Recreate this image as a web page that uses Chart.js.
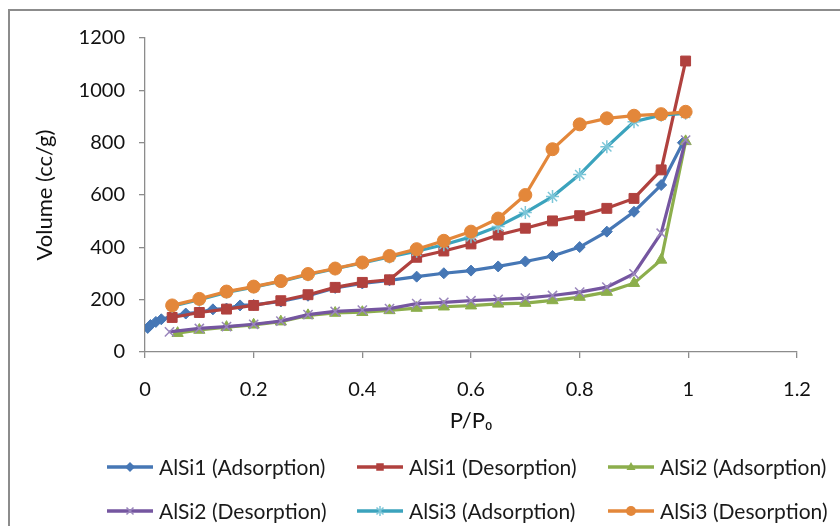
<!DOCTYPE html>
<html>
<head>
<meta charset="utf-8">
<script src="https://cdn.jsdelivr.net/npm/chart.js@4.4.1/dist/chart.umd.min.js"></script>
<style>
  body { margin: 0; background: #fff; font-family: Lato, "Liberation Sans", sans-serif; }
  #wrap { position: relative; width: 840px; height: 526px; overflow: hidden; }
  #frame { position: absolute; left: 8px; top: 9px; width: 900px; height: 600px; border: 2px solid #8c8c8c; box-sizing: border-box; }
  #chart { position: absolute; left: 0; top: 0; }
  .legend-item { position: absolute; display: flex; align-items: center; font-size: 21px; color: #1a1a1a; white-space: nowrap; line-height: 1; }
  .legend-item canvas { margin-right: 6px; }
</style>
</head>
<body>
<div id="wrap">
  <div id="frame"></div>
  <canvas id="chart" width="840" height="526"></canvas>
  <div id="legend"></div>
</div>
<script>
// P/P0 values and volumes (cc/g)
const alsi1AdsX = [0.005, 0.01, 0.02, 0.03, 0.05, 0.075, 0.1, 0.125, 0.15, 0.175, 0.2, 0.25, 0.3, 0.35, 0.4, 0.45, 0.5, 0.55, 0.6, 0.65, 0.7, 0.75, 0.8, 0.85, 0.9, 0.95, 0.99];
const alsi1AdsY = [92, 103, 115, 125, 135, 147, 152, 163, 166, 178, 180, 193, 215, 245, 262, 274, 288, 301, 311, 327, 346, 367, 401, 460, 536, 638, 800];

const stdX = [0.05, 0.1, 0.15, 0.2, 0.25, 0.3, 0.35, 0.4, 0.45, 0.5, 0.55, 0.6, 0.65, 0.7, 0.75, 0.8, 0.85, 0.9, 0.95, 0.995];

const alsi1DesY = [132, 151, 164, 178, 196, 219, 247, 266, 276, 362, 386, 413, 447, 473, 501, 521, 549, 587, 696, 1112];

const alsi2AdsX = [0.06, 0.1, 0.15, 0.2, 0.25, 0.3, 0.35, 0.4, 0.45, 0.5, 0.55, 0.6, 0.65, 0.7, 0.75, 0.8, 0.85, 0.9, 0.95, 0.995];
const alsi2AdsY = [72, 84, 95, 104, 116, 140, 149, 152, 159, 168, 173, 177, 184, 187, 197, 210, 229, 263, 352, 805];

const alsi2DesX = [0.045, 0.1, 0.15, 0.2, 0.25, 0.3, 0.35, 0.4, 0.45, 0.5, 0.55, 0.6, 0.65, 0.7, 0.75, 0.8, 0.85, 0.9, 0.95, 0.995];
const alsi2DesY = [77, 90, 97, 106, 118, 143, 155, 160, 166, 185, 190, 196, 201, 206, 216, 229, 248, 299, 454, 810];

const alsi3AdsY = [175, 200, 228, 248, 270, 295, 318, 340, 363, 385, 410, 440, 480, 533, 594, 678, 784, 880, 905, 912];
const alsi3DesY = [178, 203, 231, 250, 271, 298, 319, 342, 367, 393, 425, 460, 510, 600, 775, 870, 893, 903, 909, 918];

const xTicks = [0, 0.2, 0.4, 0.6, 0.8, 1, 1.2];
const yTicks = [0, 200, 400, 600, 800, 1000, 1200];

const series = [
  { label: 'AlSi1 (Adsorption)', x: alsi1AdsX, y: alsi1AdsY, color: '#4677b5', marker: 'rectRot', radius: 5.5, markerColor: '#4677b5' },
  { label: 'AlSi1 (Desorption)', x: stdX, y: alsi1DesY, color: '#b0413e', marker: 'rect', radius: 7, markerColor: '#b0413e' },
  { label: 'AlSi2 (Adsorption)', x: alsi2AdsX, y: alsi2AdsY, color: '#8cae4c', marker: 'triangle', radius: 6.5, markerColor: '#8cae4c' },
  { label: 'AlSi2 (Desorption)', x: alsi2DesX, y: alsi2DesY, color: '#7556a0', marker: 'crossRot', radius: 6.5, markerColor: '#9a86bc' },
  { label: 'AlSi3 (Adsorption)', x: stdX, y: alsi3AdsY, color: '#3ba3bd', marker: 'star', radius: 6.5, markerColor: '#7cc6d8' },
  { label: 'AlSi3 (Desorption)', x: stdX, y: alsi3DesY, color: '#e3873a', marker: 'circle', radius: 6.5, markerColor: '#e3873a' }
];

const textColor = '#111';
const axisColor = '#8c8c8c';

const datasets = series.map((s, i) => ({
  label: s.label,
  data: s.x.map((x, j) => ({ x: x, y: s.y[j] })),
  showLine: true,
  borderColor: s.color,
  borderWidth: 3.2,
  backgroundColor: s.markerColor,
  pointStyle: s.marker,
  pointRadius: s.radius,
  pointBorderColor: s.markerColor,
  pointBackgroundColor: s.markerColor,
  pointBorderWidth: (s.marker === 'crossRot' || s.marker === 'star') ? 1.5 : 1,
  order: series.length - i
}));

new Chart(document.getElementById('chart'), {
  type: 'scatter',
  data: { datasets: datasets },
  options: {
    responsive: false,
    animation: false,
    layout: { padding: { left: 0, right: 43, top: 38, bottom: 92 } },
    plugins: { legend: { display: false }, tooltip: { enabled: false } },
    scales: {
      x: {
        type: 'linear',
        min: 0, max: 1.2,
        afterBuildTicks: axis => { axis.ticks = xTicks.map(v => ({ value: v })); },
        afterFit: axis => { axis.height = 82; },
        ticks: { color: textColor, font: { family: 'Lato', size: 20 }, padding: 20, callback: v => String(v), maxRotation: 0 },
        grid: { display: true, drawOnChartArea: false, color: axisColor, tickLength: 6, lineWidth: 1.3 },
        border: { color: axisColor, width: 1.3 },
        title: { display: true, text: 'P/P₀', color: textColor, font: { family: 'Lato', size: 22 }, padding: 0 }
      },
      y: {
        min: 0, max: 1200,
        afterBuildTicks: axis => { axis.ticks = yTicks.map(v => ({ value: v })); },
        afterFit: axis => { axis.width = 145; },
        ticks: { color: textColor, font: { family: 'Lato', size: 20 }, padding: 14, callback: v => String(v) },
        grid: { display: true, drawOnChartArea: false, color: axisColor, tickLength: 6, lineWidth: 1.3 },
        border: { color: axisColor, width: 1.3 },
        title: { display: true, text: 'Volume (cc/g)', color: textColor, font: { family: 'Lato', size: 22 }, padding: { top: 32, bottom: 0 } }
      }
    }
  }
});

// legend: line sample with marker, laid out in the same 3x2 grid as the figure
function drawMarker(ctx, style, cx, cy, r, color) {
  ctx.fillStyle = color;
  ctx.strokeStyle = color;
  ctx.lineWidth = 1.5;
  ctx.beginPath();
  if (style === 'rectRot') {
    ctx.moveTo(cx, cy - r); ctx.lineTo(cx + r, cy); ctx.lineTo(cx, cy + r); ctx.lineTo(cx - r, cy); ctx.closePath(); ctx.fill();
  } else if (style === 'rect') {
    ctx.rect(cx - r * 0.75, cy - r * 0.75, r * 1.5, r * 1.5); ctx.fill();
  } else if (style === 'triangle') {
    ctx.moveTo(cx, cy - r); ctx.lineTo(cx + r * 0.9, cy + r * 0.6); ctx.lineTo(cx - r * 0.9, cy + r * 0.6); ctx.closePath(); ctx.fill();
  } else if (style === 'crossRot') {
    ctx.moveTo(cx - r * 0.7, cy - r * 0.7); ctx.lineTo(cx + r * 0.7, cy + r * 0.7);
    ctx.moveTo(cx + r * 0.7, cy - r * 0.7); ctx.lineTo(cx - r * 0.7, cy + r * 0.7); ctx.stroke();
  } else if (style === 'star') {
    ctx.moveTo(cx - r * 0.7, cy - r * 0.7); ctx.lineTo(cx + r * 0.7, cy + r * 0.7);
    ctx.moveTo(cx + r * 0.7, cy - r * 0.7); ctx.lineTo(cx - r * 0.7, cy + r * 0.7);
    ctx.moveTo(cx, cy - r); ctx.lineTo(cx, cy + r); ctx.stroke();
  } else {
    ctx.arc(cx, cy, r, 0, Math.PI * 2); ctx.fill();
  }
}

const legendEl = document.getElementById('legend');
const colLeft = [107, 357, 608];
const rowMid = [466, 510];
series.forEach((s, i) => {
  const item = document.createElement('div');
  item.className = 'legend-item';
  item.style.left = colLeft[i % 3] + 'px';
  item.style.top = (rowMid[Math.floor(i / 3)] - 10) + 'px';
  const c = document.createElement('canvas');
  c.width = 46; c.height = 20;
  const ctx = c.getContext('2d');
  ctx.strokeStyle = s.color;
  ctx.lineWidth = 3.5;
  ctx.beginPath(); ctx.moveTo(0, 10); ctx.lineTo(46, 10); ctx.stroke();
  drawMarker(ctx, s.marker, 23, 10, 5, s.markerColor);
  item.appendChild(c);
  const span = document.createElement('span');
  span.textContent = s.label;
  item.appendChild(span);
  legendEl.appendChild(item);
});
</script>
</body>
</html>
